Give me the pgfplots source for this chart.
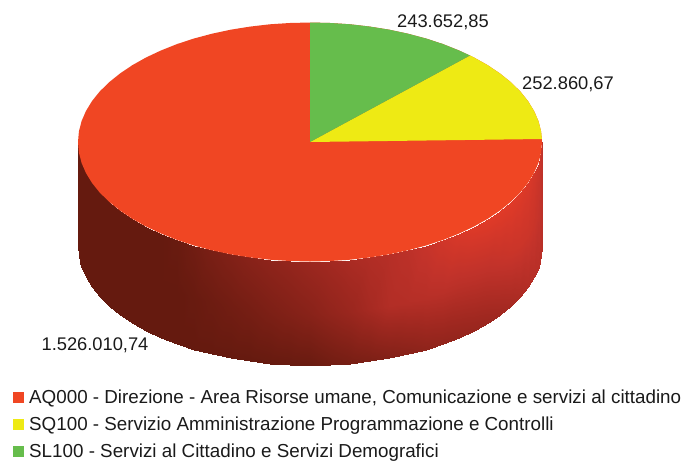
\documentclass[border=0pt]{standalone}
\usepackage{fontspec}
\setmainfont{Liberation Sans}
\usepackage{pgfplots}
\pgfplotsset{compat=1.18}
\definecolor{cred}{HTML}{F04623}
\definecolor{cyel}{HTML}{EEEA14}
\definecolor{cgrn}{HTML}{66BD4C}
\definecolor{ctxt}{HTML}{1A1A1A}
\begin{document}
\begin{tikzpicture}
\useasboundingbox (0,0) rectangle (684pt,461pt);
\begin{axis}[
  at={(0,0)}, anchor=south west,
  scale only axis, width=684pt, height=461pt,
  xmin=0, xmax=684, ymin=0, ymax=461, y dir=reverse,
  axis lines=none, clip=false,
  colormap={side}{rgb255(0cm)=(101,26,15) rgb255(2cm)=(160,40,32) rgb255(3cm)=(192,50,42) rgb255(4cm)=(224,58,40)},
  point meta min=0, point meta max=1,
  legend style={at={(axis cs:13,387.5)}, anchor=north west, draw=none, fill=none,
    font=\fontsize{18.8}{18.8}\selectfont\color{ctxt}, row sep=8pt, inner sep=0pt,
    cells={anchor=west}, /tikz/every even column/.style={column sep=0pt}},
  legend image code/.code={\fill[#1] (0pt,-5.5pt) rectangle (11pt,5.5pt);\path (14pt,0pt);},
  legend cell align=left,
]
% side wall of the cylinder
\addplot[surf, shader=interp, mesh/rows=37, mesh/cols=3, point meta=explicit, forget plot]
 table[x=x, y=y, meta=c] {
x y c
78 142 0
78 194 0
78 246 0
78.9 152.4 0
78.9 204.4 0
78.9 256.4 0
81.5 162.7 0
81.5 214.7 0
81.5 266.7 0
85.9 172.9 0
85.9 224.9 0
85.9 276.9 0
92 182.9 0
92 234.9 0
92 286.9 0
99.7 192.5 0
99.7 244.5 0
99.7 296.5 0
109.1 201.75 0
109.1 253.75 0
109.1 305.75 0
120 210.5 0
120 262.5 0
120 314.5 0
132.3 218.8 0
132.3 270.8 0
132.3 322.8 0
146 226.5 0
146 278.5 0
146 330.5 0
160.9 233.5 0
160.9 285.5 0
160.9 337.5 0
176.9 239.9 0.03
176.9 291.9 0
176.9 343.9 0
194 245.5 0.1
194 297.5 0.03
194 349.5 0
212 250.3 0.18
212 302.3 0.07
212 354.3 0
230.7 254.3 0.24
230.7 306.3 0.11
230.7 358.3 0
250 257.4 0.3
250 309.4 0.15
250 361.4 0
269.7 259.7 0.35
269.7 311.7 0.2
269.7 363.7 0.01
289.8 261 0.4
289.8 313 0.25
289.8 365 0.02
310 261.5 0.46
310 313.5 0.3
310 365.5 0.03
330.2 261 0.52
330.2 313 0.38
330.2 365 0.1
350.3 259.7 0.58
350.3 311.7 0.45
350.3 363.7 0.15
370 257.4 0.63
370 309.4 0.55
370 361.4 0.2
389.3 254.3 0.67
389.3 306.3 0.64
389.3 358.3 0.25
408 250.3 0.72
408 302.3 0.66
408 354.3 0.3
426 245.5 0.8
426 297.5 0.68
426 349.5 0.35
443.1 239.9 0.88
443.1 291.9 0.7
443.1 343.9 0.38
459.1 233.5 0.94
459.1 285.5 0.7
459.1 337.5 0.4
474 226.5 0.98
474 278.5 0.72
474 330.5 0.43
487.7 218.8 1
487.7 270.8 0.74
487.7 322.8 0.46
500 210.5 1
500 262.5 0.78
500 314.5 0.5
510.9 201.75 1
510.9 253.75 0.82
510.9 305.75 0.55
520.3 192.5 0.98
520.3 244.5 0.84
520.3 296.5 0.6
528 182.9 0.95
528 234.9 0.84
528 286.9 0.65
534.1 172.9 0.9
534.1 224.9 0.82
534.1 276.9 0.68
538.5 162.7 0.84
538.5 214.7 0.78
538.5 266.7 0.7
541.1 152.4 0.78
541.1 204.4 0.74
541.1 256.4 0.7
542 142 0.74
542 194 0.72
542 246 0.68
};
% AQ000: full top ellipse
\addplot[fill=cred, draw=none] coordinates {
(542,142)(541.1,152.4)(538.5,162.7)(534.1,172.9)(528,182.9)(520.3,192.5)(510.9,201.75)(500,210.5)(487.7,218.8)(474,226.5)(459.1,233.5)(443.1,239.9)(426,245.5)(408,250.3)(389.3,254.3)(370,257.4)(350.3,259.7)(330.2,261)(310,261.5)
(289.8,261)(269.7,259.7)(250,257.4)(230.7,254.3)(212,250.3)(194,245.5)(176.9,239.9)(160.9,233.5)(146,226.5)(132.3,218.8)(120,210.5)(109.1,201.75)(99.7,192.5)(92,182.9)(85.9,172.9)(81.5,162.7)(78.9,152.4)(78,142)
(78.9,131.6)(81.5,121.3)(85.9,111.1)(92,101.1)(99.7,91.5)(109.1,82.25)(120,73.5)(132.3,65.2)(146,57.5)(160.9,50.5)(176.9,44.1)(194,38.5)(212,33.7)(230.7,29.7)(250,26.6)(269.7,24.3)(289.8,23)(310,22.5)
(330.2,23)(350.3,24.3)(370,26.6)(389.3,29.7)(408,33.7)(426,38.5)(443.1,44.1)(459.1,50.5)(474,57.5)(487.7,65.2)(500,73.5)(510.9,82.25)(520.3,91.5)(528,101.1)(534.1,111.1)(538.5,121.3)(541.1,131.6)(542,142)
} --cycle;
\addlegendentry{AQ000 - Direzione - Area Risorse umane, Comunicazione e servizi al cittadino}
% SQ100
\addplot[fill=cyel, draw=none] coordinates {
(310,142)(541.9,139)(541.1,131.6)(538.5,121.3)(534.1,111.1)(528,101.1)(520.3,91.5)(510.9,82.25)(500,73.5)(487.7,65.2)(474,57.5)(470,55.5)
} --cycle;
\addlegendentry{SQ100 - Servizio Amministrazione Programmazione e Controlli}
% SL100
\addplot[fill=cgrn, draw=none] coordinates {
(310,142)(470,55.5)(459.1,50.5)(443.1,44.1)(426,38.5)(408,33.7)(389.3,29.7)(370,26.6)(350.3,24.3)(330.2,23)(310,22.5)
} --cycle;
\addlegendentry{SL100 - Servizi al Cittadino e Servizi Demografici}
\node[font=\fontsize{18.3}{18.3}\selectfont, text=ctxt, anchor=center] at (axis cs:443,22) {243.652,85};
\node[font=\fontsize{18.3}{18.3}\selectfont, text=ctxt, anchor=center] at (axis cs:568,84) {252.860,67};
\node[font=\fontsize{18.3}{18.3}\selectfont, text=ctxt, anchor=center] at (axis cs:95,345) {1.526.010,74};
\end{axis}
\end{tikzpicture}
\end{document}
